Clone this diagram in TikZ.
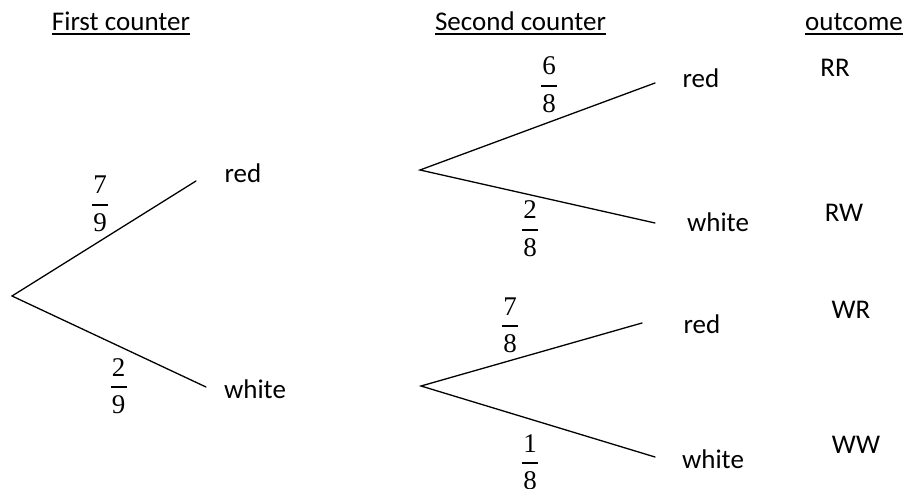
\documentclass[tikz,border=0pt]{standalone}
\usepackage{fontspec}
\newfontfamily\calibri{Carlito}
\newfontfamily\digitfont{Liberation Serif}
\newcommand\frc[5]{% name, x, bar y, numerator, denominator
  \node[dig] (#1n) at (#2,#3-11) {#4};
  \node[dig] (#1d) at (#2,#3+26.5) {#5};
  \draw[fbar] (#2-8,#3) -- (#2+8,#3);
}
\begin{document}
\begin{tikzpicture}[x=1pt,y=-1pt,
  every node/.style={inner sep=0pt},
  txt/.style={anchor=base, font=\calibri\fontsize{27}{32}\selectfont},
  dig/.style={anchor=base, font=\digitfont\fontsize{27}{32}\selectfont},
  branch/.style={line width=1.3pt, line cap=round},
  uline/.style={line width=1.4pt},
  fbar/.style={line width=1.3pt}]
\useasboundingbox (0,0) rectangle (905,489);

% headers
\node[txt] (h1) at (121,31) {First counter};
\node[txt] (h2) at (520.5,31) {Second counter};
\node[txt] (h3) at (854,31) {outcome};
\foreach \h in {h1,h2,h3}
  \draw[uline] ([yshift=-3pt]\h.base west) -- ([yshift=-3pt]\h.base east);

% first counter
\coordinate (A) at (12,296);
\coordinate (Ar) at (196,181);
\coordinate (Aw) at (206,387);
\draw[branch] (Ar) -- (A) -- (Aw);
\node[txt] (red1) at (243,183) {red};
\node[txt] (white1) at (255,398) {white};
\frc{f79}{100}{205}{7}{9}
\frc{f29}{118.5}{387}{2}{9}

% second counter after red
\coordinate (B) at (420,170);
\coordinate (Br) at (655,83);
\coordinate (Bw) at (655,223);
\draw[branch] (Br) -- (B) -- (Bw);
\node[txt] (red2) at (701,88) {red};
\node[txt] (white2) at (718,232) {white};
\frc{f68}{549}{86}{6}{8}
\frc{f28}{530}{230}{2}{8}

% second counter after white
\coordinate (C) at (421,386);
\coordinate (Cr) at (642,323);
\coordinate (Cw) at (655,457);
\draw[branch] (Cr) -- (C) -- (Cw);
\node[txt] (red3) at (702,333) {red};
\node[txt] (white3) at (713,468) {white};
\frc{f78}{510}{326}{7}{8}
\frc{f18}{530}{463}{1}{8}

% outcomes
\node[txt] (RR) at (835,77) {RR};
\node[txt] (RW) at (844,222) {RW};
\node[txt] (WR) at (851,318) {WR};
\node[txt] (WW) at (856,453) {WW};
\end{tikzpicture}
\end{document}
